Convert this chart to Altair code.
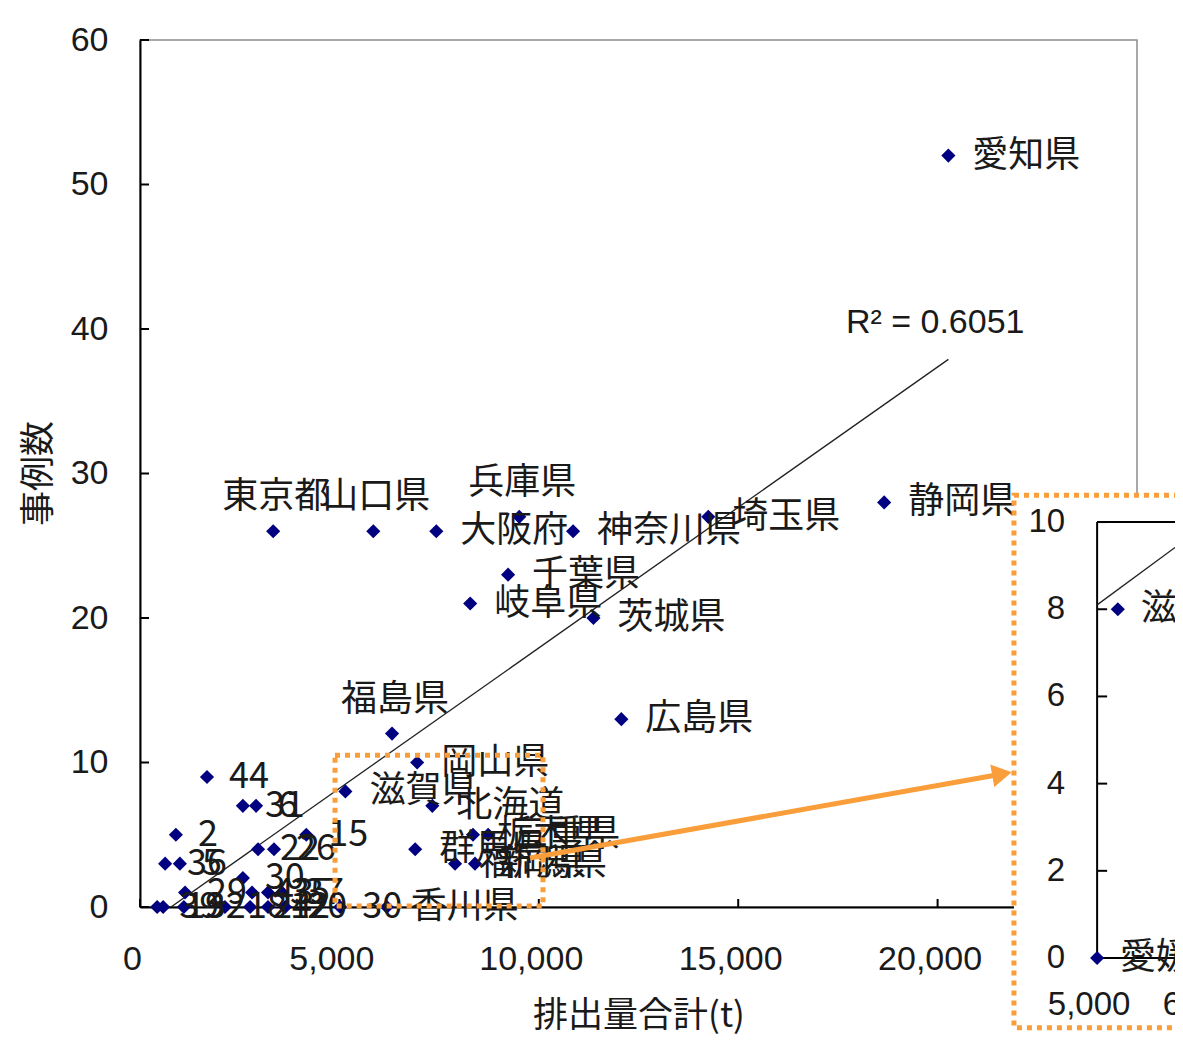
import altair as alt
import pandas as pd

# ---------------- data ----------------
pref_names = ["愛知県", "静岡県", "埼玉県", "兵庫県", "神奈川県", "東京都", "山口県", "大阪府",
              "千葉県", "岐阜県", "茨城県", "広島県", "福島県", "岡山県", "滋賀県", "北海道",
              "栃木県", "三重県", "群馬県", "福岡県", "新潟県", "香川県"]
pref_x = [20270, 18660, 14250, 9510, 10860, 3340, 5850, 7430,
          9230, 8280, 11370, 12070, 6320, 6950, 5150, 7330,
          8350, 8730, 6900, 7900, 8400, 6190]
pref_y = [52, 28, 27, 27, 26, 26, 26, 26,
          23, 21, 20, 13, 12, 10, 8, 7,
          5, 5, 4, 3, 3, 0]
pref_pos = ["right", "right", "right", "above", "right", "above", "above", "right",
            "right", "right", "right", "right", "above", "right", "right", "right",
            "right", "right", "right", "right", "right", "right"]

code_names = ["30", "44", "31", "6", "2", "15", "22", "26", "36", "5", "30",
              "29", "43", "35", "37", "39", "19", "32", "18", "24", "12", "20"]
code_x = [5020, 1680, 2580, 2910, 900, 4170, 2960, 3360, 630, 1000, 2580,
          1130, 2810, 3210, 3560, 430, 580, 1100, 2130, 2760, 3210, 3640]
code_y = [0, 9, 7, 7, 5, 5, 4, 4, 3, 3, 2,
          1, 1, 1, 1, 0, 0, 0, 0, 0, 0, 0]

trend_x = [376, 20270]
trend_y = [-0.78, 37.9]
r2_text = ["R² = 0.6051"]
r2_x = [17700]
r2_y = [40.4]

x_ticks = [0, 5000, 10000, 15000, 20000]
y_ticks = [0, 10, 20, 30, 40, 50, 60]

# zoom box in main chart and the inset box / arrow (data units of the main chart)
zoom_box = {"x": [4890], "x2": [10105], "y": [0.07], "y2": [10.5]}
inset_box = {"x": [21915], "x2": [27500], "y": [-8.35], "y2": [28.5]}
arrow_x = [9779, 21615]
arrow_y = [3.39, 9.2]

# inset (enlarged view, its own units)
inset_names = ["愛媛県", "滋賀県"]
inset_x = [5000, 5180]
inset_y = [0, 8]
inset_yticks = [0, 2, 4, 6, 8, 10]
inset_xticks = [5000, 6000]
inset_xlabels = ["5,000", "6,000"]
inset_trend_x = [5000, 5900]
inset_trend_y = [8.1, 9.85]

# placement of the inset inside the main coordinate system
INSET_X0, INSET_KX = 24000, 2.884
INSET_Y0, INSET_KY = -3.53, 3.017

# ---------------- styles ----------------
NAVY = "#000080"
ORANGE = "#F99E3A"
JP = "Noto Sans CJK JP"
NUM = "Liberation Sans"
TXT = "#1a1a1a"

xscale = alt.Scale(domain=[0, 25000], nice=False, zero=False)
yscale = alt.Scale(domain=[0, 60], nice=False, zero=False)

xaxis = alt.Axis(values=x_ticks, format=",d", title="排出量合計(t)", grid=False,
                 ticks=True, tickSize=0, labelPadding=35, labelOffset=-8, labelFlush=False,
                 labelFont=NUM, labelFontSize=34, labelColor=TXT,
                 domainColor="black", domainWidth=2,
                 titleFont=JP, titleFontSize=35, titleFontWeight="normal", titleColor=TXT,
                 titleY=108, titleBaseline="middle")
yaxis = alt.Axis(values=y_ticks, title="事例数", grid=False,
                 ticks=True, tickSize=0, labelPadding=32, labelFlush=False,
                 labelFont=NUM, labelFontSize=34, labelColor=TXT,
                 domainColor="black", domainWidth=2,
                 titleFont=JP, titleFontSize=35, titleFontWeight="normal", titleColor=TXT,
                 titleX=-102, titleY=433, titleAngle=270, titleBaseline="middle",
                 titleAlign="center")

X = alt.X("x:Q", scale=xscale, axis=xaxis)
Y = alt.Y("y:Q", scale=yscale, axis=yaxis)

pref_df = pd.DataFrame({"name": pref_names, "x": pref_x, "y": pref_y, "pos": pref_pos})
code_df = pd.DataFrame({"name": code_names, "x": code_x, "y": code_y})
trend_df = pd.DataFrame({"x": trend_x, "y": trend_y})
r2_df = pd.DataFrame({"t": r2_text, "x": r2_x, "y": r2_y})
xt_df = pd.DataFrame({"x": x_ticks})
yt_df = pd.DataFrame({"y": y_ticks})
zoom_df = pd.DataFrame(zoom_box)
inset_box_df = pd.DataFrame(inset_box)
arrow_df = pd.DataFrame({"x": arrow_x, "y": arrow_y})
head_df = arrow_df.tail(1)

ix_expr = f"{INSET_X0} + (datum.ix - 5000) * {INSET_KX}"
iy_expr = f"{INSET_Y0} + datum.iy * {INSET_KY}"

# main ticks (inward)
xticks_l = alt.Chart(xt_df).mark_rule(color="black", strokeWidth=2).encode(
    x=X, y=alt.value(867), y2=alt.value(859))
yticks_l = alt.Chart(yt_df).mark_rule(color="black", strokeWidth=2).encode(
    y=Y, x=alt.value(0), x2=alt.value(9))

trend_l = alt.Chart(trend_df).mark_line(color="#222222", strokeWidth=1.3, clip=True).encode(x=X, y=Y)

pts_all = pd.concat([pref_df[["x", "y"]], code_df[["x", "y"]]])
pts_l = alt.Chart(pts_all).mark_point(shape="diamond", filled=True, color=NAVY, size=200,
                                      opacity=1).encode(x=X, y=Y)

lab_right = alt.Chart(pref_df).transform_filter("datum.pos == 'right'").mark_text(
    align="left", baseline="middle", dx=24, font=JP, fontSize=36, color=TXT).encode(
    x=X, y=Y, text="name:N")
lab_above = alt.Chart(pref_df).transform_filter("datum.pos == 'above'").mark_text(
    align="center", baseline="middle", dy=-34, dx=3, font=JP, fontSize=36, color=TXT).encode(
    x=X, y=Y, text="name:N")
lab_code = alt.Chart(code_df).mark_text(
    align="left", baseline="middle", dx=22, font=JP, fontSize=36, color=TXT).encode(
    x=X, y=Y, text="name:N")

r2_l = alt.Chart(r2_df).mark_text(align="left", baseline="middle", font=NUM, fontSize=34,
                                  color=TXT).encode(x=X, y=Y, text="t:N")

zoom_l = alt.Chart(zoom_df).mark_rect(fill=None, fillOpacity=0, stroke=ORANGE, strokeWidth=5,
                                      strokeDash=[5, 5]).encode(
    x=X, x2="x2:Q", y=Y, y2="y2:Q")
inset_bg = alt.Chart(inset_box_df).mark_rect(fill="white", stroke=ORANGE, strokeWidth=5,
                                             strokeDash=[5, 5]).encode(
    x=X, x2="x2:Q", y=Y, y2="y2:Q")

# inset frame
frame_df = pd.DataFrame({
    "ix": [5000, 5000, 5000], "iy": [0, 10, 0],
    "ix2": [5000, 6600, 6600], "iy2": [10, 10, 0]})
inset_frame = alt.Chart(frame_df).transform_calculate(
    x=ix_expr, y=iy_expr,
    x2=f"{INSET_X0} + (datum.ix2 - 5000) * {INSET_KX}",
    y2=f"{INSET_Y0} + datum.iy2 * {INSET_KY}").mark_rule(color="black", strokeWidth=2).encode(
    x=X, y=Y, x2="x2:Q", y2="y2:Q")

iyt_df = pd.DataFrame({"ix": [5000] * len(inset_yticks), "iy": inset_yticks,
                       "lab": [str(v) for v in inset_yticks]})
inset_yt = alt.Chart(iyt_df).transform_calculate(x=ix_expr, y=iy_expr).mark_rule(
    color="black", strokeWidth=2, x2Offset=10).encode(x=X, y=Y, x2="x:Q")
inset_ytl = alt.Chart(iyt_df).transform_calculate(x=ix_expr, y=iy_expr).mark_text(
    align="right", baseline="middle", dx=-32, font=NUM, fontSize=33, color=TXT).encode(
    x=X, y=Y, text="lab:N")
ixt_df = pd.DataFrame({"ix": inset_xticks, "iy": [0] * len(inset_xticks), "lab": inset_xlabels})
inset_xtl = alt.Chart(ixt_df).transform_calculate(x=ix_expr, y=iy_expr).mark_text(
    align="center", baseline="middle", dx=-8, dy=47, font=NUM, fontSize=33, color=TXT).encode(
    x=X, y=Y, text="lab:N")

itr_df = pd.DataFrame({"ix": inset_trend_x, "iy": inset_trend_y})
inset_trend = alt.Chart(itr_df).transform_calculate(x=ix_expr, y=iy_expr).mark_line(
    color="#222222", strokeWidth=1.3).encode(x=X, y=Y)
ipt_df = pd.DataFrame({"ix": inset_x, "iy": inset_y, "name": inset_names})
inset_pts = alt.Chart(ipt_df).transform_calculate(x=ix_expr, y=iy_expr).mark_point(
    shape="diamond", filled=True, color=NAVY, size=200, opacity=1).encode(x=X, y=Y)
inset_lab = alt.Chart(ipt_df).transform_calculate(x=ix_expr, y=iy_expr).mark_text(
    align="left", baseline="middle", dx=23, font=JP, fontSize=36, color=TXT).encode(
    x=X, y=Y, text="name:N")

arrow_l = alt.Chart(arrow_df).mark_line(color=ORANGE, strokeWidth=5).encode(x=X, y=Y)
head_l = alt.Chart(head_df).mark_point(shape="triangle-right", filled=True, color=ORANGE,
                                       size=520, angle=350, opacity=1).encode(x=X, y=Y)

chart = alt.layer(
    xticks_l, yticks_l, trend_l, pts_l, lab_right, lab_above, lab_code, r2_l,
    zoom_l, inset_bg, inset_frame, inset_yt, inset_ytl, inset_xtl,
    inset_trend, inset_pts, inset_lab, arrow_l, head_l
).properties(
    width=997, height=867,
    autosize=alt.AutoSizeParams(type="none"),
    padding={"left": 132, "top": 32, "right": 38, "bottom": 130},
    background="white",
).configure_view(stroke="#8c8c8c", strokeWidth=1.5)

chart.save("out.html", embed_options={"renderer": "svg", "actions": False})
